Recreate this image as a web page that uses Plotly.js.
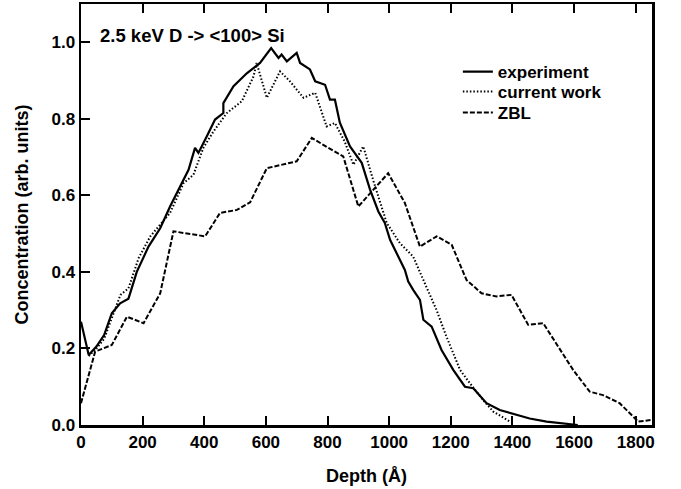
<!DOCTYPE html>
<html>
<head>
<meta charset="utf-8">
<script src="https://cdn.plot.ly/plotly-3.0.1.min.js"></script>
<style>html,body{margin:0;padding:0;background:#fff;}#chart{width:681px;height:489px;}</style>
</head>
<body>
<div id="chart"></div>
<script>
var expDepth = [0, 25, 50, 75, 100, 127, 154, 181, 219, 257, 289, 322, 349, 370, 381, 408, 435, 462, 462, 495, 538, 581, 617, 641, 651, 668, 700, 711, 743, 760, 792, 808, 824, 840, 873, 911, 938, 965, 986, 1003, 1051, 1062, 1078, 1100, 1111, 1138, 1170, 1208, 1246, 1273, 1316, 1359, 1402, 1456, 1511, 1560, 1612];
var expConc = [0.27, 0.183, 0.205, 0.235, 0.292, 0.318, 0.33, 0.40, 0.466, 0.514, 0.571, 0.623, 0.667, 0.724, 0.711, 0.754, 0.798, 0.815, 0.841, 0.885, 0.919, 0.946, 0.985, 0.959, 0.968, 0.950, 0.972, 0.946, 0.929, 0.898, 0.889, 0.850, 0.850, 0.790, 0.728, 0.685, 0.615, 0.558, 0.528, 0.484, 0.405, 0.375, 0.353, 0.327, 0.275, 0.257, 0.196, 0.144, 0.100, 0.096, 0.057, 0.039, 0.029, 0.017, 0.009, 0.004, 0.0];

var simDepth = [25, 50, 75, 100, 128, 154, 171, 187, 225, 257, 289, 333, 365, 397, 430, 473, 522, 560, 570, 603, 646, 678, 722, 760, 797, 824, 856, 884, 916, 948, 992, 1035, 1078, 1111, 1154, 1186, 1230, 1262, 1305, 1338, 1392];
var simConc = [0.18, 0.20, 0.225, 0.28, 0.34, 0.357, 0.40, 0.436, 0.493, 0.523, 0.554, 0.632, 0.654, 0.724, 0.767, 0.815, 0.846, 0.911, 0.946, 0.855, 0.924, 0.898, 0.855, 0.868, 0.780, 0.789, 0.740, 0.680, 0.728, 0.640, 0.528, 0.475, 0.440, 0.379, 0.300, 0.231, 0.144, 0.109, 0.065, 0.035, 0.009];

var zblDepth = [0, 46, 100, 149, 203, 257, 300, 403, 451, 506, 549, 603, 700, 749, 803, 851, 900, 997, 1051, 1100, 1154, 1203, 1230, 1251, 1300, 1348, 1397, 1451, 1500, 1597, 1651, 1694, 1748, 1797, 1808, 1851];
var zblConc = [0.057, 0.192, 0.209, 0.283, 0.266, 0.344, 0.506, 0.493, 0.554, 0.562, 0.582, 0.671, 0.689, 0.750, 0.724, 0.702, 0.571, 0.658, 0.580, 0.466, 0.493, 0.471, 0.419, 0.379, 0.344, 0.336, 0.340, 0.262, 0.266, 0.144, 0.087, 0.078, 0.057, 0.017, 0.009, 0.013];

var seriesNames = ["experiment", "current work", "ZBL"];
var xTicks = [0, 200, 400, 600, 800, 1000, 1200, 1400, 1600, 1800];
var yTicks = [0.0, 0.2, 0.4, 0.6, 0.8, 1.0];
var yTickText = ["0.0", "0.2", "0.4", "0.6", "0.8", "1.0"];

var FONT = "Liberation Sans, Arial, sans-serif";
var traces = [
  {x: expDepth, y: expConc, name: seriesNames[0], legend: "legend", mode: "lines", line: {color: "#000", width: 2.2, dash: "solid"}},
  {x: simDepth, y: simConc, name: seriesNames[1], legend: "legend2", mode: "lines", line: {color: "#000", width: 2, dash: "1.5px,2px"}},
  {x: zblDepth, y: zblConc, name: seriesNames[2], legend: "legend3", mode: "lines", line: {color: "#000", width: 2, dash: "5px,2px"}}
];

var axisCommon = {
  showgrid: false, zeroline: false, showline: true, linecolor: "#000", linewidth: 2.5,
  ticks: "inside", ticklen: 9, tickwidth: 2, tickcolor: "#000",
  tickfont: {family: FONT, size: 17, color: "#000", weight: "bold"}
};

function legendAt(yv) {
  return {x: 0.66, y: yv, xanchor: "left", yanchor: "middle", bgcolor: "rgba(0,0,0,0)",
          font: {family: FONT, size: 17, color: "#000", weight: "bold"}};
}

var layout = {
  width: 681, height: 489,
  margin: {l: 81, r: 29, t: 4, b: 64},
  paper_bgcolor: "#fff", plot_bgcolor: "#fff",
  showlegend: true,
  legend: legendAt(0.8385),
  legend2: legendAt(0.791),
  legend3: legendAt(0.741),
  xaxis: Object.assign({}, axisCommon, {
    range: [0, 1853], tickvals: xTicks, mirror: "ticks",
    title: {text: "Depth (Å)", font: {family: FONT, size: 18, color: "#000", weight: "bold"}, standoff: 19}
  }),
  yaxis: Object.assign({}, axisCommon, {
    range: [0, 1.1], tickvals: yTicks, ticktext: yTickText, mirror: true,
    title: {text: "Concentration (arb. units)", font: {family: FONT, size: 18, color: "#000", weight: "bold"}, standoff: 18}
  }),
  annotations: [{
    text: "2.5 keV D -> <100> Si", xref: "paper", yref: "paper", x: 0.03, y: 0.925,
    xanchor: "left", yanchor: "middle", showarrow: false,
    font: {family: FONT, size: 18.5, color: "#000", weight: "bold"}
  }]
};

Plotly.newPlot("chart", traces, layout, {displayModeBar: false, staticPlot: true});
</script>
</body>
</html>
